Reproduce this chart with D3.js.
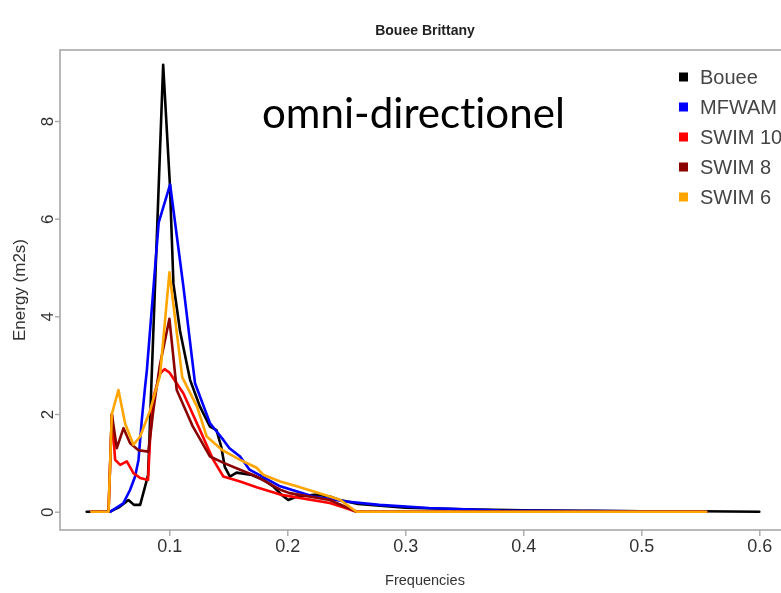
<!DOCTYPE html>
<html>
<head>
<meta charset="utf-8">
<script src="https://cdn.jsdelivr.net/npm/d3@7"></script>
<style>
  html, body { margin: 0; padding: 0; background: #fff; }
  svg { display: block; }
  text { font-variant-ligatures: none; font-feature-settings: "liga" 0, "clig" 0; }
</style>
</head>
<body>
<svg id="chart" width="781" height="593"></svg>
<script>
// ---------------- DATA ----------------
const chartTitle = "Bouee Brittany";
const xAxisTitle = "Frequencies";
const yAxisTitle = "Energy (m2s)";
const annotation = "omni-directionel";
const seriesNames = ["Bouee", "MFWAM", "SWIM 10", "SWIM 8", "SWIM 6"];
const xTicks = [0.1, 0.2, 0.3, 0.4, 0.5, 0.6];
const yTicks = [0, 2, 4, 6, 8];

const freqBouee   = [0.030, 0.050, 0.058, 0.0654, 0.070, 0.0753, 0.0795, 0.082, 0.0948, 0.1005, 0.1035, 0.1091, 0.1176, 0.126, 0.1345, 0.140, 0.144, 0.147, 0.1514, 0.157, 0.170, 0.180, 0.188, 0.195, 0.2008, 0.208, 0.225, 0.236, 0.2445, 0.26, 0.30, 0.35, 0.40, 0.45, 0.50, 0.55, 0.60];
const energyBouee = [0, 0, 0.10, 0.24, 0.14, 0.14, 0.52, 0.75, 9.15, 6.7, 4.67, 3.70, 2.70, 2.15, 1.74, 1.67, 1.33, 0.92, 0.72, 0.80, 0.75, 0.65, 0.52, 0.35, 0.24, 0.31, 0.35, 0.31, 0.24, 0.16, 0.08, 0.05, 0.03, 0.02, 0.01, 0.01, 0.0];

const freqMfwam   = [0.035, 0.050, 0.061, 0.0668, 0.071, 0.0739, 0.0767, 0.0795, 0.081, 0.091, 0.1007, 0.112, 0.1218, 0.1345, 0.1458, 0.151, 0.160, 0.168, 0.194, 0.222, 0.25, 0.278, 0.32, 0.338, 0.38, 0.45, 0.50, 0.555];
const energyMfwam = [0, 0, 0.17, 0.45, 0.72, 1.06, 1.88, 2.56, 2.9, 5.92, 6.7, 4.6, 2.63, 1.81, 1.47, 1.30, 1.13, 0.86, 0.52, 0.31, 0.21, 0.14, 0.075, 0.06, 0.025, 0.015, 0.01, 0.01];

const freqSwim10   = [0.034, 0.0485, 0.0513, 0.0541, 0.0584, 0.064, 0.0696, 0.0753, 0.082, 0.0838, 0.0866, 0.0922, 0.096, 0.1001, 0.112, 0.126, 0.1373, 0.1458, 0.160, 0.174, 0.194, 0.236, 0.2586, 0.555];
const energySwim10 = [0, 0, 2.0, 1.06, 0.96, 1.03, 0.79, 0.69, 0.65, 1.54, 2.35, 2.83, 2.92, 2.85, 2.42, 1.67, 1.06, 0.72, 0.62, 0.5, 0.35, 0.18, 0, 0];

const freqSwim8   = [0.034, 0.0485, 0.0513, 0.0555, 0.0612, 0.0668, 0.0739, 0.0823, 0.0866, 0.092, 0.1001, 0.1063, 0.12, 0.1345, 0.146, 0.160, 0.174, 0.194, 0.202, 0.236, 0.2586, 0.555];
const energySwim8 = [0, 0, 2.0, 1.3, 1.71, 1.4, 1.26, 1.23, 2.1, 3.0, 3.95, 2.49, 1.74, 1.13, 1.0, 0.86, 0.72, 0.45, 0.38, 0.24, 0, 0];

const freqSwim6   = [0.034, 0.0485, 0.0513, 0.0569, 0.0626, 0.0696, 0.0753, 0.0838, 0.0922, 0.1001, 0.111, 0.1235, 0.1317, 0.145, 0.160, 0.174, 0.180, 0.194, 0.208, 0.236, 0.245, 0.2586, 0.555];
const energySwim6 = [0, 0, 2.0, 2.49, 1.8, 1.37, 1.54, 2.08, 2.8, 4.9, 2.75, 2.15, 1.54, 1.26, 1.06, 0.9, 0.75, 0.62, 0.52, 0.31, 0.24, 0, 0];

// ---------------- DRAWING ----------------
const series = [
  { name: seriesNames[0], f: freqBouee,  e: energyBouee },
  { name: seriesNames[1], f: freqMfwam,  e: energyMfwam },
  { name: seriesNames[2], f: freqSwim10, e: energySwim10 },
  { name: seriesNames[3], f: freqSwim8,  e: energySwim8 },
  { name: seriesNames[4], f: freqSwim6,  e: energySwim6 }
];
const color = d3.scaleOrdinal().domain(seriesNames)
  .range(["#000000", "#0000ff", "#ff0000", "#8b0000", "#ffa500"]);

const svg = d3.select("#chart");
const font = "'Liberation Sans', Arial, sans-serif";

const defs = svg.append("defs");
defs.append("filter").attr("id", "soft")
  .append("feGaussianBlur").attr("stdDeviation", 0.55);

const box = { left: 60, top: 50, right: 790, bottom: 530 };
const x = d3.scaleLinear().domain([0, 0.6]).range([51.3, 759.3]);
const y = d3.scaleLinear().domain([0, 8]).range([511.7, 121]);

const g = svg.append("g").attr("filter", "url(#soft)");

// box
g.append("rect")
  .attr("x", box.left).attr("y", box.top)
  .attr("width", box.right - box.left).attr("height", box.bottom - box.top)
  .attr("fill", "none").attr("stroke", "#a8a8a8").attr("stroke-width", 1.6);

// x axis
const xAxis = d3.axisBottom(x).tickValues(xTicks).tickSize(6).tickSizeOuter(0)
  .tickFormat(d3.format(".1f"));
const gx = g.append("g").attr("transform", `translate(0,${box.bottom})`).call(xAxis);
gx.select(".domain").remove();
gx.selectAll(".tick line").attr("stroke", "#a8a8a8").attr("stroke-width", 1.4);
gx.selectAll(".tick text").attr("font-family", font).attr("font-size", 18)
  .attr("fill", "#333").attr("dy", "0.9em").attr("y", 6);

// y axis
const yAxis = d3.axisLeft(y).tickValues(yTicks).tickSize(5).tickSizeOuter(0);
const gy = g.append("g").attr("transform", `translate(${box.left},0)`).call(yAxis);
gy.select(".domain").remove();
gy.selectAll(".tick line").attr("stroke", "#a8a8a8").attr("stroke-width", 1.4);
gy.selectAll(".tick text").attr("font-family", font).attr("font-size", 17)
  .attr("fill", "#333")
  .attr("x", null).attr("dy", null)
  .attr("text-anchor", "middle")
  .attr("transform", "translate(-13,0) rotate(-90)")
  .attr("dominant-baseline", "central");

// lines
const line = d3.line().x(d => x(d[0])).y(d => y(d[1]));
series.forEach(s => {
  const pts = s.f.map((f, i) => [f, s.e[i]]);
  g.append("path").datum(pts)
    .attr("d", line)
    .attr("fill", "none")
    .attr("stroke", color(s.name))
    .attr("stroke-width", 2.6)
    .attr("stroke-linejoin", "round")
    .attr("stroke-linecap", "round");
});

// title
g.append("text").attr("x", 425).attr("y", 35)
  .attr("text-anchor", "middle").attr("font-family", font)
  .attr("font-weight", "bold").attr("font-size", 14).attr("fill", "#222")
  .text(chartTitle);

// axis titles
g.append("text").attr("x", 425).attr("y", 585)
  .attr("text-anchor", "middle").attr("font-family", font)
  .attr("font-size", 14.5).attr("fill", "#333").text(xAxisTitle);
g.append("text").attr("transform", "translate(25,290) rotate(-90)")
  .attr("text-anchor", "middle").attr("font-family", font)
  .attr("font-size", 17).attr("fill", "#333").text(yAxisTitle);

// legend
const leg = g.append("g");
seriesNames.forEach((n, i) => {
  const ly = 77 + i * 30;
  leg.append("rect").attr("x", 679).attr("y", ly - 4.5).attr("width", 9).attr("height", 9)
    .attr("fill", color(n));
  leg.append("text").attr("x", 700).attr("y", ly).attr("dominant-baseline", "central")
    .attr("font-family", font).attr("font-size", 20).attr("fill", "#444").text(n);
});

// annotation
const ann = svg.append("text").attr("x", 262).attr("y", 128)
  .attr("font-family", "Lato, 'Open Sans', sans-serif").attr("font-size", 36)
  .style("font-variant-ligatures", "none")
  .attr("fill", "#000").text(annotation);
const w = ann.node().getComputedTextLength();
ann.attr("font-size", 36 * 303 / w);
</script>
</body>
</html>
